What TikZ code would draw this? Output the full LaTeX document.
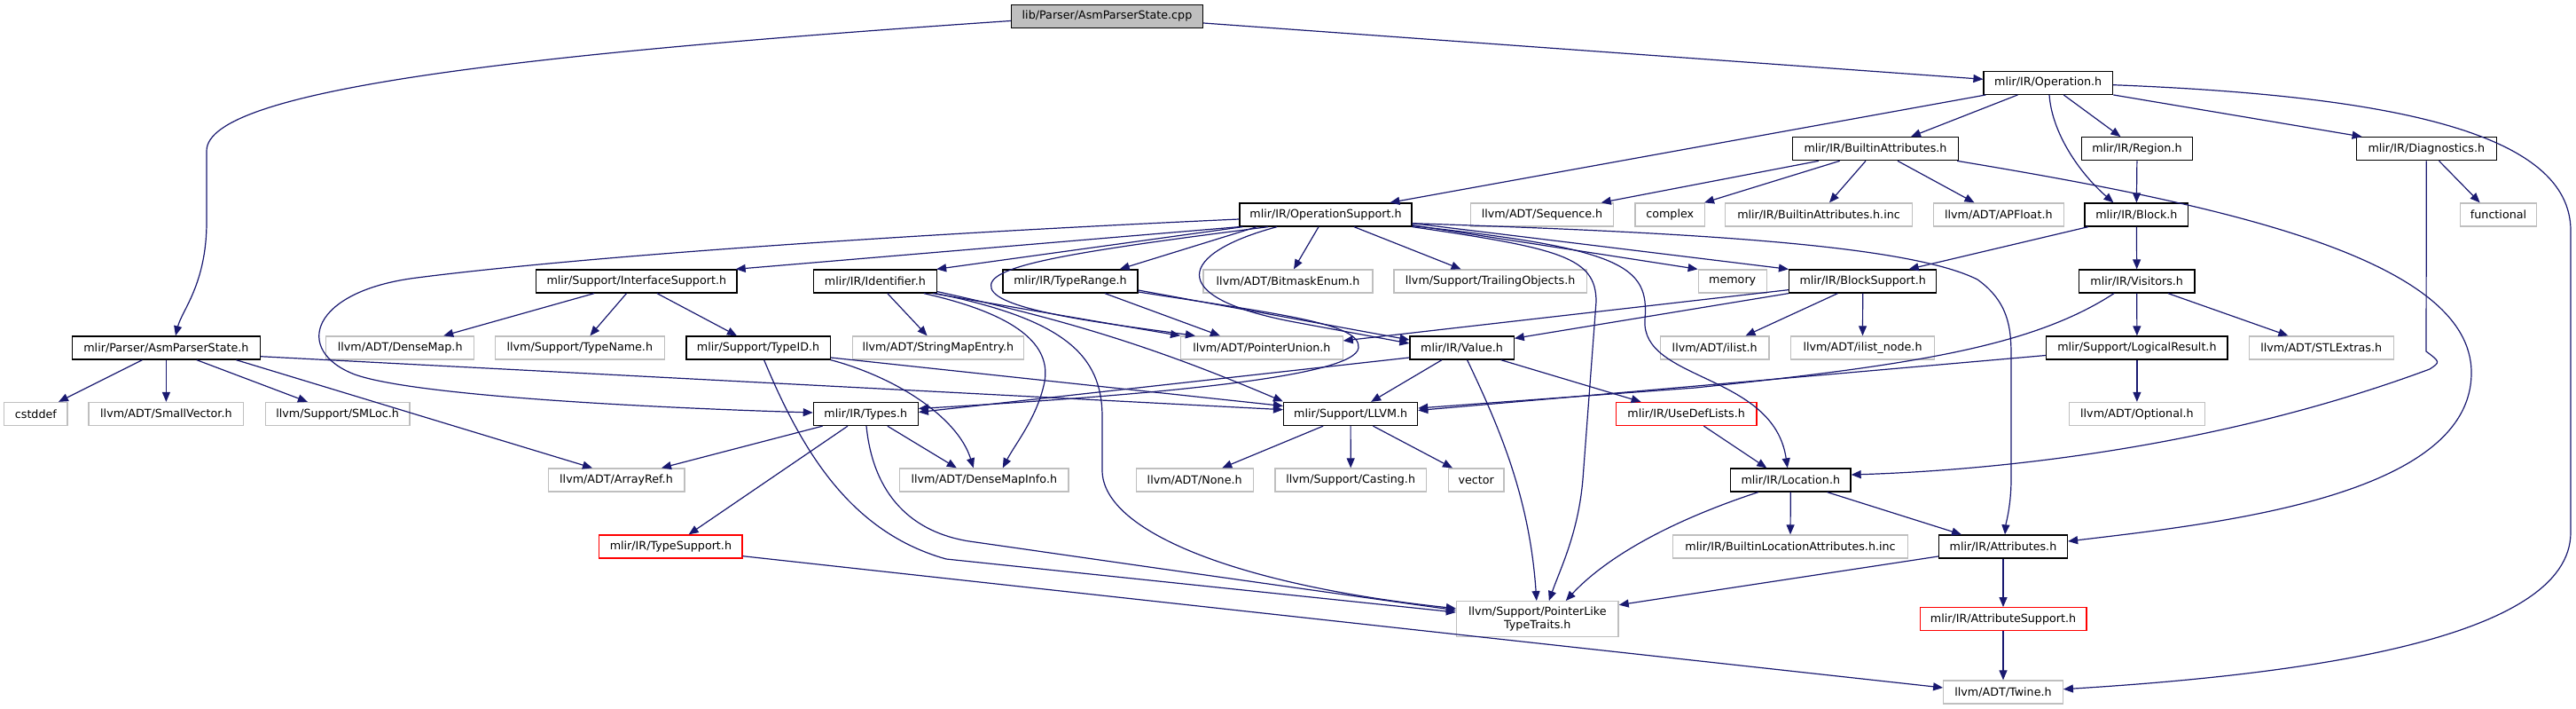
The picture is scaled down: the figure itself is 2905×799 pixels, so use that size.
\documentclass[tikz,border=0pt]{standalone}
\usepackage{fontspec}
\setmainfont{DejaVu Sans}
\usetikzlibrary{arrows.meta}
\definecolor{edgec}{HTML}{191970}
\definecolor{lgray}{HTML}{BFBFBF}
\tikzset{
  base/.style={draw, line width=1.3pt, inner sep=0pt, minimum height=26pt, font=\fontsize{12.7}{15}\selectfont, align=center, text=black},
  nbox/.style={base, draw=black},
  gbox/.style={base, draw=lgray},
  rbox/.style={base, draw=red},
  rootbox/.style={base, draw=black, fill=lgray},
  dep/.style={draw=edgec, line width=1.2pt, -{Triangle[length=11pt,width=9pt]}},
}
\begin{document}
\begin{tikzpicture}[x=1pt,y=-1pt]
\useasboundingbox (0,0) rectangle (2905,799);
% row 0
\node[rootbox, minimum width=216pt] (root) at (1248.5,18.5) {lib/Parser/AsmParserState.cpp};
% row 1
\node[nbox, minimum width=145.3pt] (op) at (2309.7,93.3) {mlir/IR/Operation.h};
% row 2
\node[nbox, minimum width=187pt] (battr) at (2115,167.7) {mlir/IR/BuiltinAttributes.h};
\node[nbox, minimum width=125.4pt] (region) at (2409.9,167.7) {mlir/IR/Region.h};
\node[nbox, minimum width=157.7pt] (diag) at (2736.3,167.7) {mlir/IR/Diagnostics.h};
% row 3
\node[nbox, minimum width=194pt] (opsup) at (1495,242) {mlir/IR/OperationSupport.h};
\node[gbox, minimum width=161pt] (seq) at (1739,242) {llvm/ADT/Sequence.h};
\node[gbox, minimum width=78.3pt] (complex) at (1883.2,242) {complex};
\node[gbox, minimum width=211pt] (battrinc) at (2051,242) {mlir/IR/BuiltinAttributes.h.inc};
\node[gbox, minimum width=146.8pt] (apfloat) at (2253.8,242) {llvm/ADT/APFloat.h};
\node[nbox, minimum width=116.8pt] (block) at (2409.4,242) {mlir/IR/Block.h};
\node[gbox, minimum width=86.4pt] (functional) at (2817.5,242) {functional};
% row 4
\node[nbox, minimum width=226.5pt] (ifsup) at (717.8,317) {mlir/Support/InterfaceSupport.h};
\node[nbox, minimum width=139.2pt] (ident) at (986.9,317) {mlir/IR/Identifier.h};
\node[nbox, minimum width=152pt] (trange) at (1207,317) {mlir/IR/TypeRange.h};
\node[gbox, minimum width=191pt] (bitmask) at (1452.5,317) {llvm/ADT/BitmaskEnum.h};
\node[gbox, minimum width=217.2pt] (trailing) at (1680.6,317) {llvm/Support/TrailingObjects.h};
\node[gbox, minimum width=76.9pt] (memory) at (1953.7,317) {memory};
\node[nbox, minimum width=166.2pt] (bsup) at (2100.7,317) {mlir/IR/BlockSupport.h};
\node[nbox, minimum width=130.7pt] (visitors) at (2409.7,317) {mlir/IR/Visitors.h};
% row 5
\node[nbox, minimum width=211.5pt] (aps) at (187.4,392) {mlir/Parser/AsmParserState.h};
\node[gbox, minimum width=167.1pt] (densemap) at (451.2,392) {llvm/ADT/DenseMap.h};
\node[gbox, minimum width=191pt] (typename) at (653.8,392) {llvm/Support/TypeName.h};
\node[nbox, minimum width=162.3pt] (typeid) at (855,392) {mlir/Support/TypeID.h};
\node[gbox, minimum width=193.4pt] (smentry) at (1057.9,392) {llvm/ADT/StringMapEntry.h};
\node[gbox, minimum width=182.5pt] (punion) at (1422.9,392) {llvm/ADT/PointerUnion.h};
\node[nbox, minimum width=117.1pt] (value) at (1648.6,392) {mlir/IR/Value.h};
\node[gbox, minimum width=122.7pt] (ilist) at (1933.7,392) {llvm/ADT/ilist.h};
\node[gbox, minimum width=161.9pt] (ilistnode) at (2100.5,392) {llvm/ADT/ilist\_node.h};
\node[nbox, minimum width=204.3pt] (logres) at (2409.9,392) {mlir/Support/LogicalResult.h};
\node[gbox, minimum width=163pt] (stlextras) at (2617.7,392) {llvm/ADT/STLExtras.h};
% row 6
\node[gbox, minimum width=71.3pt] (cstddef) at (40.4,466.5) {cstddef};
\node[gbox, minimum width=174.7pt] (smallvec) at (187.4,466.5) {llvm/ADT/SmallVector.h};
\node[gbox, minimum width=162.8pt] (smloc) at (380.6,466.5) {llvm/Support/SMLoc.h};
\node[nbox, minimum width=117.9pt] (types) at (976.3,466.5) {mlir/IR/Types.h};
\node[nbox, minimum width=151pt] (llvmh) at (1523.1,466.5) {mlir/Support/LLVM.h};
\node[rbox, minimum width=158.5pt] (usedef) at (1901.6,466.5) {mlir/IR/UseDefLists.h};
\node[gbox, minimum width=153pt] (optional) at (2409.9,466.5) {llvm/ADT/Optional.h};
% row 7
\node[gbox, minimum width=153.7pt] (arrayref) at (695,541) {llvm/ADT/ArrayRef.h};
\node[gbox, minimum width=190.6pt] (dmi) at (1109.8,541) {llvm/ADT/DenseMapInfo.h};
\node[gbox, minimum width=132.1pt] (none) at (1347.2,541) {llvm/ADT/None.h};
\node[gbox, minimum width=170.7pt] (casting) at (1523.2,541) {llvm/Support/Casting.h};
\node[gbox, minimum width=62.3pt] (vector) at (1664.7,541) {vector};
\node[nbox, minimum width=135.4pt] (location) at (2019.3,541) {mlir/IR/Location.h};
% row 8
\node[rbox, minimum width=161.2pt] (tsup) at (756.4,616) {mlir/IR/TypeSupport.h};
\node[gbox, minimum width=265.3pt] (blocattr) at (2019,616) {mlir/IR/BuiltinLocationAttributes.h.inc};
\node[nbox, minimum width=144.9pt] (attrs) at (2259,616) {mlir/IR/Attributes.h};
% row 9
\node[gbox, minimum width=182.6pt, minimum height=40pt] (pltt) at (1733.8,697.7) {llvm/Support/PointerLike\\TypeTraits.h};
\node[rbox, minimum width=187.7pt] (attrsup) at (2259,697.7) {mlir/IR/AttributeSupport.h};
% row 10
\node[gbox, minimum width=134.5pt] (twine) at (2259,780) {llvm/ADT/Twine.h};

% ---- edges ----
% root
\draw[dep] ([yshift=-7.5pt]root.east) -- ([yshift=4pt]op.west);
\draw[dep] ([yshift=-5pt]root.west) .. controls (600,60) and (233,100) .. (233,170) -- (233,250) .. controls (233,320) and (205,350) .. ([xshift=10.6pt]aps.north);
% Operation.h
\draw[dep] ([xshift=3pt]op.south west) -- ([xshift=72.4pt]opsup.north);
\draw[dep] ([xshift=-34.3pt]op.south) -- ([xshift=40pt]battr.north);
\draw[dep] ([xshift=17.5pt]op.south) -- ([xshift=-18.5pt]region.north);
\draw[dep] ([xshift=1.3pt]op.south) .. controls (2314,150) and (2345,195) .. ([xshift=-26pt]block.north);
\draw[dep] ([xshift=73.6pt]op.south) -- ([xshift=-72.7pt]diag.north);
\draw[dep] ([yshift=-2.4pt]op.east) .. controls (2700,108) and (2899,150) .. (2899,260) -- (2899,600) .. controls (2899,720) and (2600,760) .. ([yshift=3.3pt]twine.east);
% BuiltinAttributes.h
\draw[dep] ([xshift=-64pt]battr.south) -- ([xshift=66.7pt]seq.north);
\draw[dep] ([xshift=-40.3pt]battr.south) -- ([xshift=-1pt]complex.north east);
\draw[dep] ([xshift=-11pt]battr.south) -- ([xshift=12pt]battrinc.north);
\draw[dep] ([xshift=25pt]battr.south) -- ([xshift=-27.3pt]apfloat.north);
\draw[dep] ([xshift=-2pt]battr.south east) .. controls (2500,230) and (2787,290) .. (2787,420) .. controls (2787,560) and (2500,590) .. ([yshift=6pt]attrs.east);
% Diagnostics.h
\draw[dep] ([xshift=14.2pt]diag.south) -- ([xshift=-20.9pt]functional.north);
\draw[dep] (diag.south) -- (2736,396) .. controls (2752,408) .. (2740,416) .. controls (2500,505) and (2250,530) .. ([yshift=6pt]location.east);
% Region / Block / Visitors / LogicalResult
\draw[dep] (region.south) -- (block.north);
\draw[dep] ([xshift=-54.6pt]block.south) -- ([xshift=52pt]bsup.north);
\draw[dep] (block.south) -- (visitors.north);
\draw[dep] (visitors.south) -- (logres.north);
\draw[dep] ([xshift=35.3pt]visitors.south) -- ([xshift=-37.3pt]stlextras.north);
\draw[dep] ([xshift=-25.7pt]visitors.south) .. controls (2290,392) and (2150,412) .. (1912,437) -- ([yshift=6.5pt]llvmh.east);
\draw[dep] (logres.south) -- (optional.north);
\draw[dep] ([yshift=-8.5pt]logres.west) -- ([yshift=4pt]llvmh.east);
% BlockSupport.h
\draw[dep] ([xshift=-28.3pt]bsup.south) -- ([xshift=34.8pt]ilist.north);
\draw[dep] (bsup.south) -- (ilistnode.north);
\draw[dep] (bsup.south west) -- ([yshift=-3pt]value.north east);
\draw[dep] ([yshift=4pt]bsup.south west) -- ([yshift=8pt]punion.east);
% OperationSupport.h
\draw[dep] (opsup.south west) -- ([xshift=-2pt]ifsup.north east);
\draw[dep] ([xshift=4pt]opsup.south west) -- ([xshift=-1pt]ident.north east);
\draw[dep] ([xshift=20pt]opsup.south west) -- ([xshift=55.7pt]trange.north);
\draw[dep] ([yshift=-5pt]opsup.west) .. controls (1000,265) and (650,290) .. (470,313) .. controls (350,328) and (330,395) .. (400,422) .. controls (470,447) and (750,460) .. ([yshift=1.5pt]types.west);
\draw[dep] ([xshift=-65pt]opsup.south) .. controls (1200,285) and (1110,300) .. (1118,325) .. controls (1125,350) and (1250,365) .. ([xshift=-75pt]punion.north);
\draw[dep] ([xshift=-55pt]opsup.south) .. controls (1330,285) and (1310,335) .. (1460,363) -- ([yshift=5pt]value.west);
\draw[dep] ([xshift=-8pt]opsup.south) -- ([xshift=6.5pt]bitmask.north);
\draw[dep] ([xshift=32pt]opsup.south) -- ([xshift=-33pt]trailing.north);
\draw[dep] ([yshift=2pt]opsup.south east) -- (memory.north west);
\draw[dep] ([yshift=4pt]opsup.south east) -- (bsup.north west);
\draw[dep] (opsup.south east) .. controls (1760,280) and (1800,290) .. (1800,340) -- (1785,540) .. controls (1780,600) and (1760,640) .. ([xshift=13pt]pltt.north);
\draw[dep] ([yshift=1pt]opsup.south east) .. controls (1830,280) and (1860,300) .. (1855,360) .. controls (1850,430) and (2000,420) .. ([xshift=-3.5pt]location.north);
\draw[dep] ([yshift=-9.7pt]opsup.east) .. controls (1900,262) and (2150,275) .. (2230,315) .. controls (2265,340) and (2268,370) .. (2268,400) -- (2268,540) .. controls (2268,570) and (2262,590) .. ([xshift=2pt]attrs.north);
% InterfaceSupport.h
\draw[dep] ([xshift=-47.8pt]ifsup.south) -- ([xshift=49pt]densemap.north);
\draw[dep] ([xshift=-11.3pt]ifsup.south) -- ([xshift=11.6pt]typename.north);
\draw[dep] ([xshift=23.2pt]ifsup.south) -- ([xshift=-24pt]typeid.north);
% Identifier.h
\draw[dep] ([xshift=13.9pt]ident.south) -- ([xshift=-12.3pt]smentry.north);
\draw[dep] ([xshift=-5pt]ident.south east) -- (punion.north west);
\draw[dep] ([yshift=2pt]ident.south east) .. controls (1200,360) and (1300,390) .. ([yshift=14pt]llvmh.west);
\draw[dep] ([xshift=55pt]ident.south) .. controls (1150,355) and (1185,390) .. (1178,430) .. controls (1170,470) and (1145,500) .. ([xshift=21pt]dmi.north);
\draw[dep] ([xshift=-2pt]ident.south east) .. controls (1200,360) and (1243,400) .. (1243,470) -- (1243,530) .. controls (1243,600) and (1400,660) .. ([yshift=12pt]pltt.west);
% TypeRange.h
\draw[dep] ([xshift=39pt]trange.south) -- ([xshift=-47pt]punion.north);
\draw[dep] ([yshift=-10pt]trange.east) -- ([yshift=9pt]value.west);
\draw[dep] ([yshift=-12pt]trange.east) .. controls (1450,355) and (1535,365) .. (1532,392) .. controls (1528,425) and (1300,445) .. ([yshift=6pt]types.east);
% Value.h
\draw[dep] ([yshift=-11pt]value.west) -- ([yshift=2pt]types.east);
\draw[dep] ([xshift=-22.6pt]value.south) -- ([xshift=23pt]llvmh.north);
\draw[dep] ([xshift=44pt]value.south) -- ([xshift=-51pt]usedef.north);
\draw[dep] ([xshift=6pt]value.south) .. controls (1690,480) and (1725,560) .. ([xshift=-1pt]pltt.north);
% AsmParserState.h
\draw[dep] ([xshift=-27pt]aps.south) -- ([xshift=25.6pt]cstddef.north);
\draw[dep] (aps.south) -- (smallvec.north);
\draw[dep] ([xshift=34.4pt]aps.south) -- ([xshift=-33.7pt]smloc.north);
\draw[dep] ([xshift=79pt]aps.south) -- ([xshift=-27pt]arrayref.north);
\draw[dep] ([yshift=-9.7pt]aps.east) -- ([yshift=4.8pt]llvmh.west);
% TypeID.h
\draw[dep] ([yshift=-11pt]typeid.east) -- ([yshift=9pt]llvmh.west);
\draw[dep] (typeid.south east) .. controls (1010,425) and (1080,470) .. ([xshift=-12pt]dmi.north);
\draw[dep] ([xshift=6.6pt]typeid.south) .. controls (905,510) and (960,600) .. (1067,630) -- ([yshift=7.7pt]pltt.west);
% Types.h
\draw[dep] ([xshift=-48.7pt]types.south) -- ([xshift=51pt]arrayref.north);
\draw[dep] ([xshift=-20.3pt]types.south) -- ([xshift=20.2pt]tsup.north);
\draw[dep] ([xshift=24.5pt]types.south) -- ([xshift=-31pt]dmi.north);
\draw[dep] ([xshift=0.7pt]types.south) .. controls (985,560) and (1030,600) .. (1093,610) .. controls (1150,618) and (1300,640) .. ([yshift=10pt]pltt.west);
% UseDefLists / LLVM.h / Location.h
\draw[dep] ([xshift=19.8pt]usedef.south) -- ([xshift=-27pt]location.north);
\draw[dep] ([xshift=-31pt]llvmh.south) -- ([xshift=31pt]none.north);
\draw[dep] (llvmh.south) -- (casting.north);
\draw[dep] ([xshift=25.4pt]llvmh.south) -- ([xshift=-26.7pt]vector.north);
\draw[dep] (location.south) -- (blocattr.north);
\draw[dep] ([xshift=-36.6pt]location.south) .. controls (1860,595) and (1800,640) .. ([xshift=32pt]pltt.north);
\draw[dep] ([xshift=41.3pt]location.south) -- ([xshift=-47pt]attrs.north);
% Attributes / AttributeSupport / TypeSupport
\draw[dep] (attrs.south) -- (attrsup.north);
\draw[dep] ([yshift=-11pt]attrs.west) -- ([yshift=16pt]pltt.east);
\draw[dep] (attrsup.south) -- (twine.north);
\draw[dep] ([yshift=-10.7pt]tsup.east) -- ([yshift=5pt]twine.west);
\end{tikzpicture}
\end{document}
